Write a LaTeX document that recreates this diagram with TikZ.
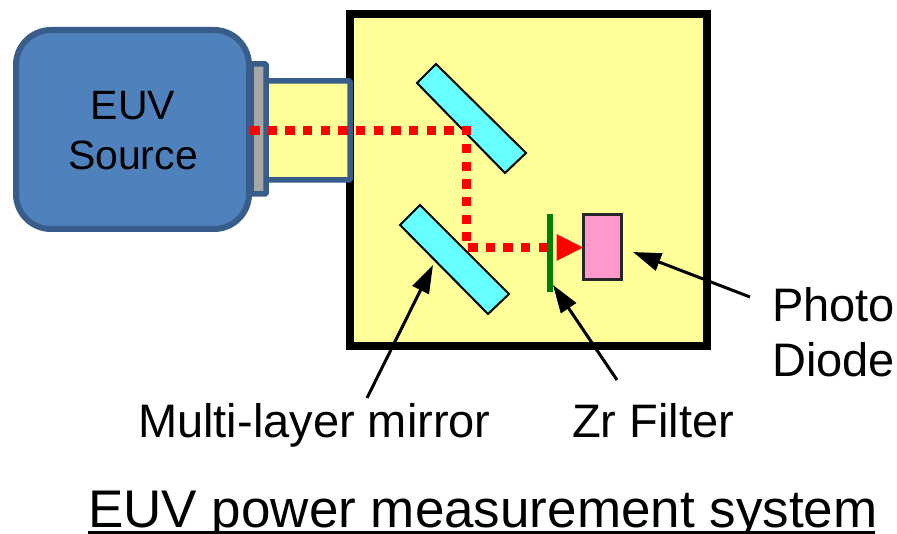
\documentclass[tikz,border=0pt]{standalone}
\usepackage{fontspec}
\setmainfont{Liberation Sans}
\usetikzlibrary{arrows.meta}
\definecolor{srcfill}{HTML}{4F81BD}
\definecolor{srcline}{HTML}{385D8A}
\definecolor{ylw}{HTML}{FFFF99}
\definecolor{cyn}{HTML}{66FFFF}
\definecolor{pnk}{HTML}{FF99CC}
\definecolor{grn}{HTML}{008000}
\tikzset{
  box/.style={inner sep=0pt,outer sep=0pt,anchor=north west},
  mirror/.style={draw=black,line width=2pt,fill=cyn,line join=miter},
  beam/.style={red,line width=9.5pt,dash pattern=on 9.5pt off 8.15pt},
  callout/.style={draw=black,line width=3pt,-{Triangle[length=28pt,width=18pt]}},
  lbl/.style={inner sep=0pt,anchor=base west,font=\fontsize{47}{47}\selectfont},
  srctxt/.style={inner sep=0pt,anchor=base,font=\fontsize{41}{41}\selectfont}
}
\begin{document}
\begin{tikzpicture}[x=1pt,y=-1pt]
\useasboundingbox (0,0) rectangle (897,534);
% chamber
\node[box,draw=black,line width=8pt,fill=ylw,minimum width=357pt,minimum height=332pt] (chamber) at (350,14) {};
% tube
\node[box,draw=srcline,line width=5.5pt,fill=ylw,rounded corners=1pt,minimum width=86pt,minimum height=99pt] (tube) at (264,81) {};
% window
\node[box,draw=srcline,line width=5.5pt,fill=black!35,rounded corners=1pt,minimum width=15pt,minimum height=130pt] (window) at (251,64) {};
% source
\node[box,draw=srcline,line width=6pt,fill=srcfill,rounded corners=35pt,minimum width=233pt,minimum height=199pt] (source) at (16,30) {};
\node[srctxt] (t1) at (133,120) {EUV};
\node[srctxt] (t2) at (133,170) {Source};
% mirrors
\draw[mirror] (436,64) -- (417,83) -- (505,173) -- (526,153) -- cycle;
\draw[mirror] (420,205) -- (400,225) -- (488,314) -- (509,294) -- cycle;
% beam
\coordinate (b0) at (250,130.5);
\coordinate (b1) at (471,130.5);
\coordinate (b2) at (466.5,144);
\coordinate (b3) at (466.5,241);
\coordinate (b4) at (468,247.5);
\coordinate (b5) at (547,247.5);
\draw[beam] (b0) -- (b1);
\draw[beam] (b2) -- (b3);
\draw[beam] (b4) -- (b5);
% filter
\node[box,fill=grn,minimum width=6pt,minimum height=78pt] (filter) at (547,214) {};
% diode
\node[box,draw=black!85,line width=3pt,fill=pnk,minimum width=38pt,minimum height=65pt] (diode) at (583.5,215) {};
% arrow
\fill[red] (556.5,234) -- (556.5,261) -- (583,247.5) -- cycle;
% labels
\node[lbl] (photo) at (772,322) {Photo};
\node[lbl] (dio) at (772,377) {Diode};
\node[lbl] (ml) at (138,437) {Multi-layer mirror};
\node[lbl] (zr) at (572,437) {Zr Filter};
\node[inner sep=0pt,anchor=base west,font=\fontsize{53}{53}\selectfont] (title) at (88,527) {\rlap{\rule[-7pt]{787pt}{3.5pt}}EUV power measurement system};
% callouts
\coordinate (a1s) at (367,398); \coordinate (a1e) at (433,265);
\coordinate (a2s) at (617,380); \coordinate (a2e) at (553,285);
\coordinate (a3s) at (750,297); \coordinate (a3e) at (633,252);
\draw[callout] (a1s) -- (a1e);
\draw[callout] (a2s) -- (a2e);
\draw[callout] (a3s) -- (a3e);
\end{tikzpicture}
\end{document}
